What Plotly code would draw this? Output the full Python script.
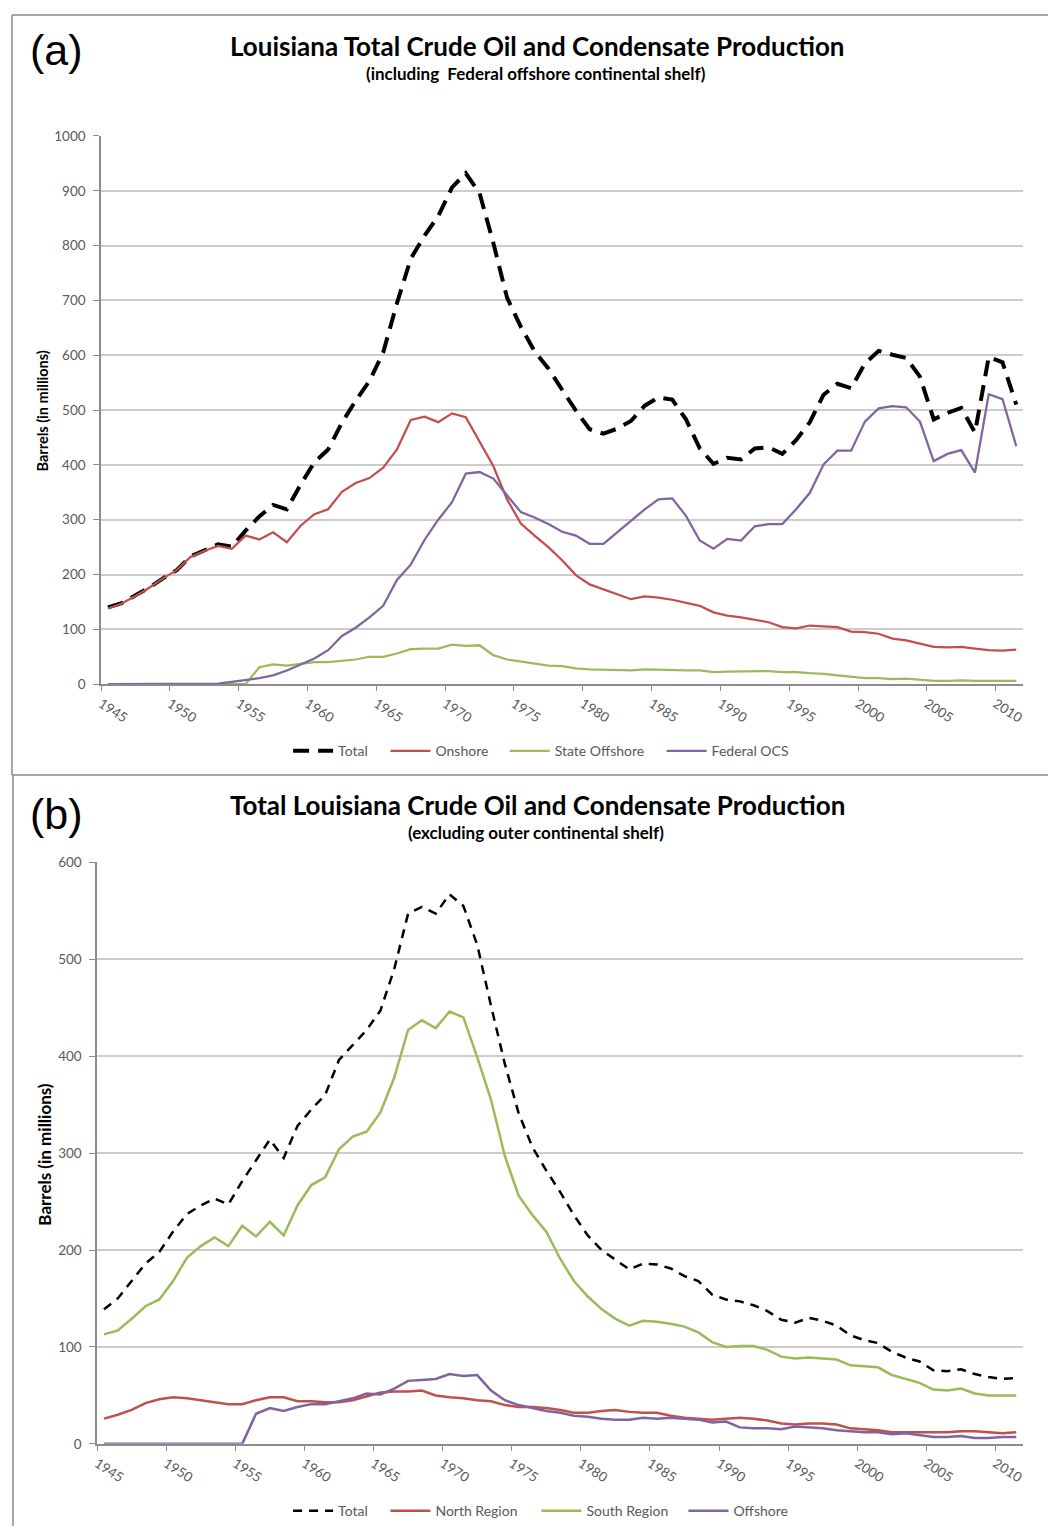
import plotly.graph_objects as go

years = list(range(1945, 2012))

# ---------- Panel (a) data (millions of barrels) ----------
total_a = [140, 148, 162, 176, 193, 208, 233, 244, 255, 251,
           280, 306, 327, 319, 364, 405, 428, 477, 517, 553,
           605, 695, 776, 818, 854, 906, 932, 896, 805, 705,
           652, 607, 576, 537, 499, 465, 457, 466, 480, 508,
           523, 519, 483, 430, 402, 413, 410, 430, 432, 420,
           445, 478, 528, 548, 540, 585, 608, 601, 595, 561,
           483, 495, 504, 459, 597, 587, 510]
onshore_a = [138, 147, 161, 176, 193, 208, 232, 243, 252, 247,
             271, 264, 277, 259, 289, 310, 319, 351, 367, 376,
             395, 428, 482, 488, 478, 494, 487, 443, 398, 337,
             293, 271, 250, 226, 199, 182, 173, 164, 155, 160,
             158, 154, 149, 143, 131, 125, 122, 117, 113, 104,
             102, 107, 106, 104, 96, 95, 92, 83, 80, 74,
             68, 67, 68, 65, 62, 61, 63]
state_offshore_a = [0, 0, 0, 0, 0, 0, 0, 0, 0, 0,
                    0, 31, 36, 34, 37, 40, 40, 42, 45, 50,
                    50, 56, 64, 65, 65, 72, 70, 71, 53, 45,
                    41, 38, 34, 33, 29, 27, 26, 25, 25, 27,
                    26, 26, 25, 25, 22, 23, 23, 24, 24, 22,
                    22, 20, 19, 16, 14, 11, 11, 9, 10, 8,
                    6, 6, 7, 6, 6, 6, 6]
federal_ocs_a = [0, 0, 0, 0, 0, 0, 0, 0, 1, 4,
                 7, 11, 16, 25, 36, 47, 62, 88, 103, 122,
                 143, 190, 218, 263, 300, 332, 384, 387, 375, 345,
                 314, 304, 292, 278, 271, 256, 256, 277, 298, 319,
                 337, 339, 307, 262, 247, 265, 262, 288, 292, 292,
                 319, 349, 401, 426, 426, 479, 503, 507, 505, 479,
                 407, 420, 427, 386, 529, 520, 434]

# ---------- Panel (b) data (millions of barrels) ----------
total_b = [139, 150, 168, 186, 198, 219, 237, 246, 253, 247,
           271, 293, 314, 295, 328, 345, 360, 396, 412, 427,
           447, 490, 547, 554, 547, 567, 555, 515, 452, 392,
           341, 306, 282, 260, 236, 215, 200, 190, 180, 186,
           185, 181, 173, 168, 154, 149, 147, 143, 137, 128,
           125, 130, 127, 122, 112, 107, 104, 95, 89, 85,
           76, 75, 77, 72, 69, 67, 68]
north_b = [26, 30, 35, 42, 46, 48, 47, 45, 43, 41,
           41, 45, 48, 48, 44, 44, 43, 43, 45, 49,
           53, 54, 54, 55, 50, 48, 47, 45, 44, 40,
           38, 38, 37, 35, 32, 32, 34, 35, 33, 32,
           32, 29, 27, 26, 25, 26, 27, 26, 24, 21,
           20, 21, 21, 20, 16, 15, 14, 12, 12, 12,
           12, 12, 13, 13, 12, 11, 12]
south_b = [113, 117, 129, 142, 149, 168, 192, 204, 213, 204,
           225, 214, 229, 215, 246, 267, 275, 304, 317, 322,
           342, 378, 427, 437, 429, 446, 440, 399, 355, 297,
           256, 236, 219, 191, 168, 152, 139, 129, 122, 127,
           126, 124, 121, 115, 105, 100, 101, 101, 97, 90,
           88, 89, 88, 87, 81, 80, 79, 71, 67, 63,
           56, 55, 57, 52, 50, 50, 50]
offshore_b = [0, 0, 0, 0, 0, 0, 0, 0, 0, 0,
              0, 31, 37, 34, 38, 41, 41, 44, 47, 52,
              51, 57, 65, 66, 67, 72, 70, 71, 55, 45,
              40, 37, 34, 32, 29, 28, 26, 25, 25, 27,
              26, 27, 26, 25, 22, 23, 17, 16, 16, 15,
              18, 17, 16, 14, 13, 12, 12, 10, 11, 9,
              7, 7, 8, 6, 6, 7, 7]

tick_years = ["1945", "1950", "1955", "1960", "1965", "1970", "1975",
              "1980", "1985", "1990", "1995", "2000", "2005", "2010"]
tick_pos = [int(t) - 0.5 for t in tick_years]

RED = "#C0504D"
GREEN = "#9BBB59"
PURPLE = "#8064A2"
GRID = "#CCCCCC"
AXIS = "#8C8C8C"
TXT = "#595959"
FONT = "Lato"

W, H = 1050, 1534


def px(x):
    return x / W


def py(y):
    return 1 - y / H


fig = go.Figure()

# (series, name, colour, width, dash, axis suffix, legend id, legend line start px, legend y px)
series = [
    (total_a, "Total", "black", 4, "16px,9px", "", "legend", 290, 751),
    (onshore_a, "Onshore", RED, 2.25, "solid", "", "legend2", 388, 751),
    (state_offshore_a, "State Offshore", GREEN, 2.25, "solid", "", "legend3", 508, 751),
    (federal_ocs_a, "Federal OCS", PURPLE, 2.25, "solid", "", "legend4", 666, 751),
    (total_b, "Total", "black", 2.5, "9px,7px", "2", "legend5", 290, 1519),
    (north_b, "North Region", RED, 2.5, "solid", "2", "legend6", 388, 1519),
    (south_b, "South Region", GREEN, 2.5, "solid", "2", "legend7", 540, 1519),
    (offshore_b, "Offshore", PURPLE, 2.5, "solid", "2", "legend8", 688, 1519),
]

LEG_OFFSET = 5
legends = {}
for vals, name, col, wdt, dash, ax, leg, lx, ly in series:
    fig.add_trace(go.Scatter(x=years, y=vals, name=name, mode="lines",
                             line=dict(color=col, width=wdt, dash=dash),
                             xaxis="x" + ax, yaxis="y" + ax, legend=leg))
    legends[leg] = dict(orientation="h", x=px(lx - LEG_OFFSET), y=py(ly),
                        xanchor="left", yanchor="middle", itemwidth=40,
                        font=dict(family=FONT, size=14, color=TXT),
                        bgcolor="rgba(0,0,0,0)", borderwidth=0)

xcommon = dict(range=[1944.5, 2011.5], tickmode="array", tickvals=tick_pos,
               ticktext=tick_years, tickangle=33, ticks="outside", ticklen=5,
               tickcolor=AXIS, showline=True, linecolor=AXIS, linewidth=1.5,
               showgrid=False, zeroline=False,
               tickfont=dict(family=FONT, size=13.5, color=TXT))
ycommon = dict(ticks="outside", ticklen=6, tickcolor=AXIS, showline=True,
               linecolor=AXIS, linewidth=1.5, showgrid=True, gridcolor=GRID,
               gridwidth=1.5, zeroline=False, dtick=100, ticklabelstandoff=5,
               tickfont=dict(family=FONT, size=13.5, color=TXT))

fig.update_layout(
    width=W, height=H,
    margin=dict(l=0, r=0, t=0, b=0),
    paper_bgcolor="white", plot_bgcolor="white",
    xaxis=dict(domain=[px(96.7), px(1025)], anchor="y", **xcommon),
    yaxis=dict(domain=[py(683.3), py(129.3)], anchor="x", range=[0, 1000], **ycommon),
    xaxis2=dict(domain=[px(92.7), px(1025)], anchor="y2", **xcommon),
    yaxis2=dict(domain=[py(1451), py(863.3)], anchor="x2", range=[0, 600], **ycommon),
    showlegend=True,
    **legends,
)

ann = []
ann.append(dict(text="(a)", x=px(52), y=py(42), font=dict(family="Liberation Sans", size=43, color="black")))
ann.append(dict(text="(b)", x=px(52), y=py(814), font=dict(family="Liberation Sans", size=43, color="black")))
ann.append(dict(text="<b>Louisiana Total Crude Oil and Condensate Production</b>", x=px(536), y=py(38),
                font=dict(family=FONT, size=26, color="black")))
ann.append(dict(text="<b>(including  Federal offshore continental shelf)</b>", x=px(535), y=py(66),
                font=dict(family=FONT, size=17, color="black")))
ann.append(dict(text="<b>Total Louisiana Crude Oil and Condensate Production</b>", x=px(536), y=py(805),
                font=dict(family=FONT, size=26, color="black")))
ann.append(dict(text="<b>(excluding outer continental shelf)</b>", x=px(535), y=py(833),
                font=dict(family=FONT, size=17, color="black")))
ann.append(dict(text="<b>Barrels (in millions)</b>", x=px(38), y=py(407), textangle=-90,
                font=dict(family=FONT, size=14.5, color="black")))
ann.append(dict(text="<b>Barrels (in millions)</b>", x=px(40), y=py(1158), textangle=-90,
                font=dict(family=FONT, size=17, color="black")))
for a in ann:
    a.update(xref="paper", yref="paper", showarrow=False, xanchor="center", yanchor="middle")
fig.update_layout(annotations=ann)

BORDER = "#8A8A8A"
shapes = [
    dict(type="line", xref="paper", yref="paper", x0=px(7), x1=1, y0=py(7), y1=py(7)),
    dict(type="line", xref="paper", yref="paper", x0=px(7), x1=px(7), y0=py(7), y1=py(775)),
    dict(type="line", xref="paper", yref="paper", x0=px(7), x1=1, y0=py(775), y1=py(775)),
    dict(type="line", xref="paper", yref="paper", x0=px(8), x1=px(8), y0=py(775), y1=0),
]
for s in shapes:
    s["line"] = dict(color=BORDER, width=1.5)
fig.update_layout(shapes=shapes)

fig.write_html("out.html")
